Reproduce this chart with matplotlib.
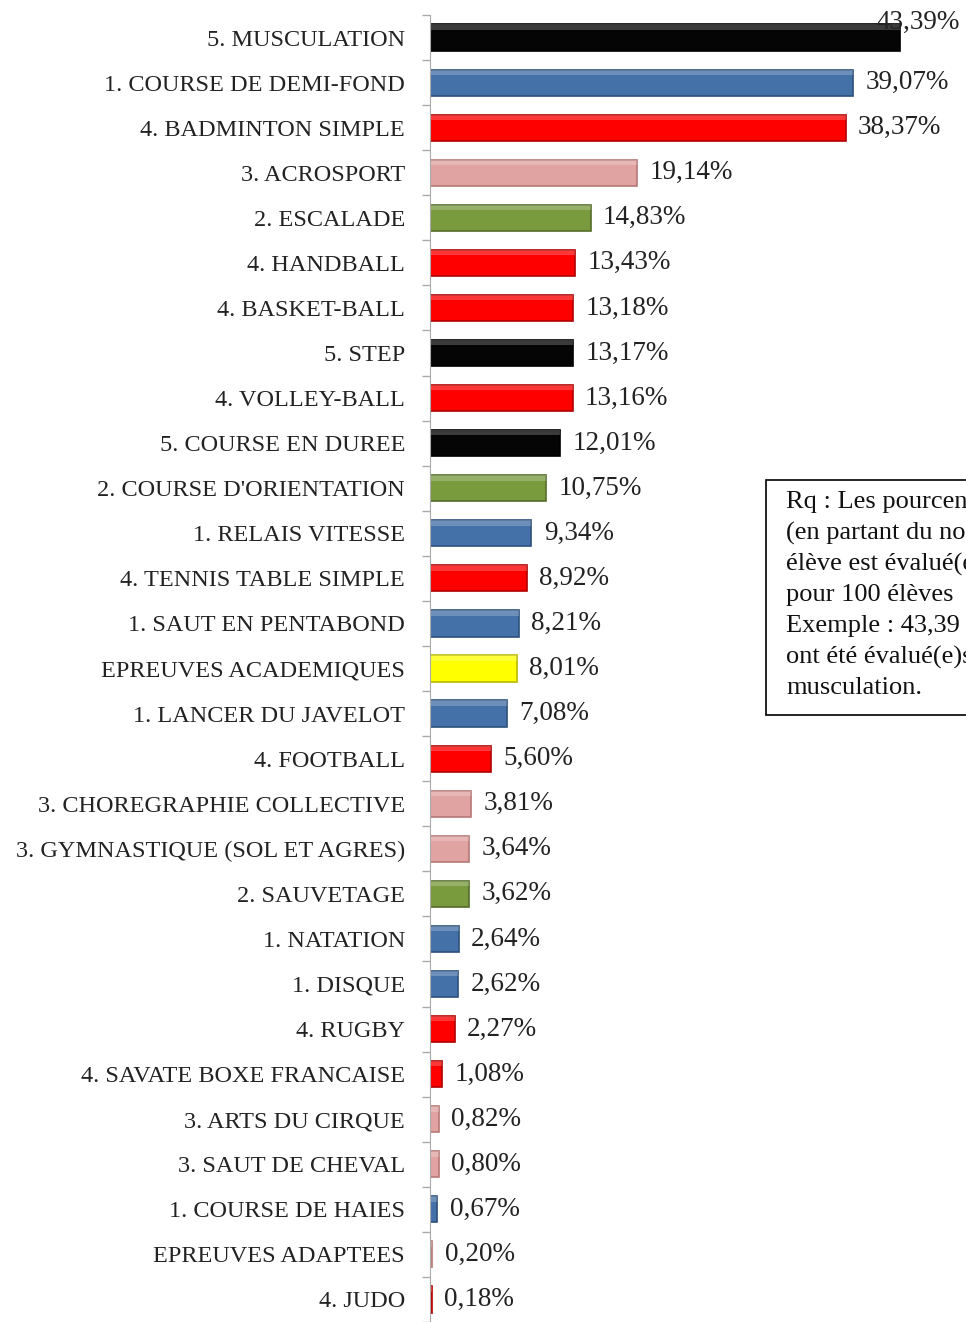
import matplotlib.pyplot as plt
from matplotlib.patches import Rectangle

# data, top to bottom as in the picture
categories = [
    "5. MUSCULATION", "1. COURSE DE DEMI-FOND", "4. BADMINTON SIMPLE",
    "3. ACROSPORT", "2. ESCALADE", "4. HANDBALL", "4. BASKET-BALL", "5. STEP",
    "4. VOLLEY-BALL", "5. COURSE EN DUREE", "2. COURSE D'ORIENTATION",
    "1. RELAIS VITESSE", "4. TENNIS TABLE SIMPLE", "1. SAUT EN PENTABOND",
    "EPREUVES ACADEMIQUES", "1. LANCER DU JAVELOT", "4. FOOTBALL",
    "3. CHOREGRAPHIE COLLECTIVE", "3. GYMNASTIQUE (SOL ET AGRES)",
    "2. SAUVETAGE", "1. NATATION", "1. DISQUE", "4. RUGBY",
    "4. SAVATE BOXE FRANCAISE", "3. ARTS DU CIRQUE", "3. SAUT DE CHEVAL",
    "1. COURSE DE HAIES", "EPREUVES ADAPTEES", "4. JUDO",
]
values = [
    43.39, 39.07, 38.37, 19.14, 14.83, 13.43, 13.18, 13.17, 13.16, 12.01,
    10.75, 9.34, 8.92, 8.21, 8.01, 7.08, 5.60, 3.81, 3.64, 3.62, 2.64, 2.62,
    2.27, 1.08, 0.82, 0.80, 0.67, 0.20, 0.18,
]
groups = [
    "5", "1", "4", "3", "2", "4", "4", "5", "4", "5", "2", "1", "4", "1", "A",
    "1", "4", "3", "3", "2", "1", "1", "4", "4", "3", "3", "1", "3", "4",
]
note_lines = [
    "Rq : Les pourcentages",
    "(en partant du nombre",
    "élève est évalué(e)",
    "pour 100 élèves",
    "Exemple : 43,39 élèves",
    "ont été évalué(e)s en",
    "musculation.",
]

fill = {"1": "#4472a8", "2": "#7a9a3e", "3": "#e0a3a2", "4": "#ff0000",
        "5": "#050505", "A": "#ffff00"}
edge = {"1": "#2c4f7c", "2": "#556d2a", "3": "#b57876", "4": "#b00000",
        "5": "#000000", "A": "#b8b800"}

plt.rcParams["font.family"] = ["Liberation Serif", "DejaVu Serif"]

W, H = 966, 1322
fig = plt.figure(figsize=(W / 100, H / 100), dpi=100)
ax = fig.add_axes([430 / W, 0, 1 - 430 / W, 1 - 15 / H])

n = len(values)
ys = list(range(n))
colors = [fill[g] for g in groups]
edges = [edge[g] for g in groups]
ax.barh(ys, values, height=0.58, color=colors, edgecolor=edges, linewidth=1.2)
# light top band for the bevelled look
for y, v in zip(ys, values):
    ax.add_patch(Rectangle((0, y - 0.29), v, 0.12, facecolor="white",
                           alpha=0.22, linewidth=0))

for i, (y, v) in enumerate(zip(ys, values)):
    txt = f"{v:.2f}%".replace(".", ",")
    if i == 0:
        ax.annotate(txt, (v, y), xytext=(-17, 11), textcoords="offset points",
                    va="center", ha="left", fontsize=19.5, color="#222222")
    else:
        ax.annotate(txt, (v, y), xytext=(9, 0), textcoords="offset points",
                    va="center", ha="left", fontsize=19.5, color="#222222")

ax.set_xlim(0, (W - 430) / 10.83)
ax.set_ylim(28.4, -0.5)
ax.set_yticks(ys)
ax.set_yticklabels(categories, fontsize=17.5, color="#222222")
ax.tick_params(axis="y", which="major", length=0, pad=18)
ax.set_yticks([i - 0.5 for i in range(n + 1)], minor=True)
ax.tick_params(axis="y", which="minor", length=6, color="#aaaaaa", width=1)
ax.set_xticks([])
for side in ("top", "right", "bottom"):
    ax.spines[side].set_visible(False)
ax.spines["left"].set_color("#aaaaaa")

# note box, cut by the right edge as in the source
fig.patches.append(Rectangle((766 / W, 1 - 715 / H), 300 / W, 235 / H,
                             transform=fig.transFigure, facecolor="white",
                             edgecolor="black", linewidth=1.2))
for k, line in enumerate(note_lines):
    fig.text(786 / W, 1 - (502 + 31 * k) / H, line, fontsize=19,
             va="center", ha="left", color="#111111")

fig.savefig("out.png", dpi=100)
